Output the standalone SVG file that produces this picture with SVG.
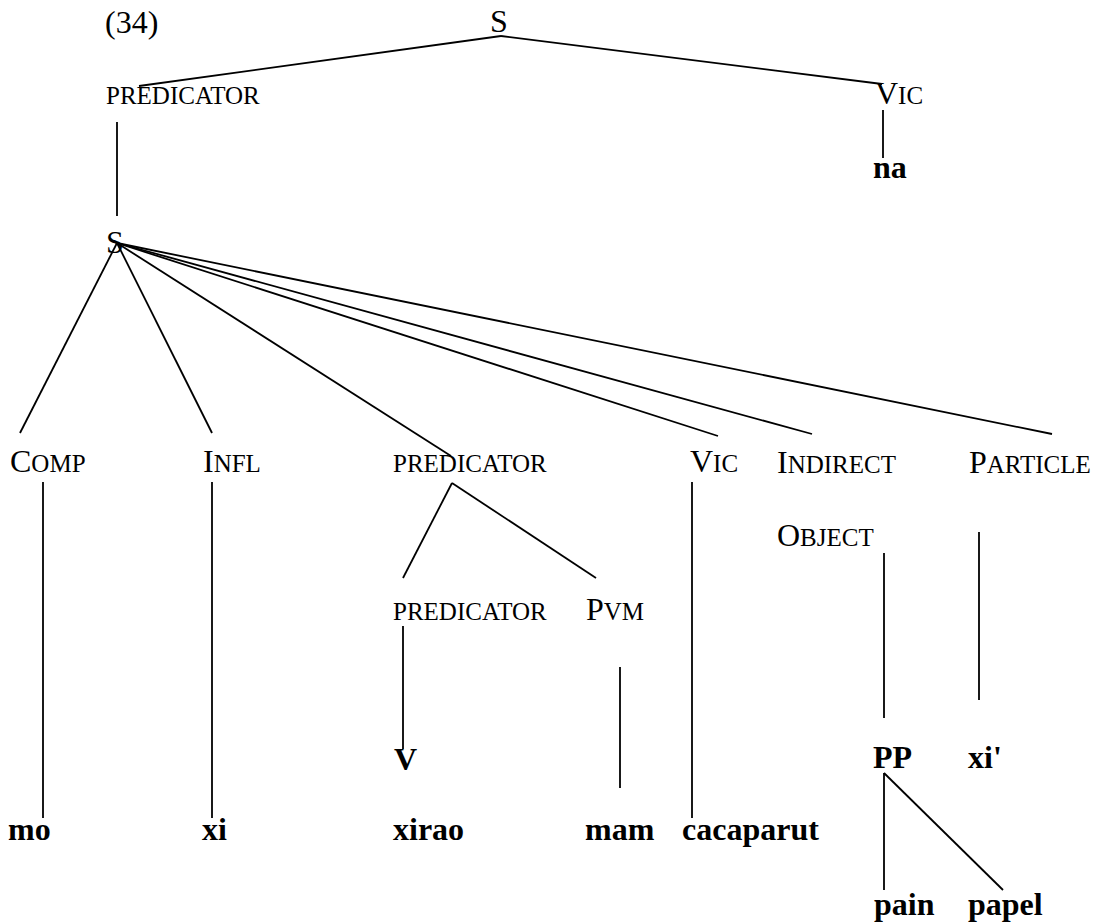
<svg xmlns="http://www.w3.org/2000/svg" width="1097" height="923" viewBox="0 0 1097 923">
  <style>
    text { font-family: "Liberation Serif", "Times New Roman", serif; font-size: 32px; fill: #000; }
    .sc { font-size: 25px; }
    .b { font-weight: bold; }
    #connectors line { stroke: #000; stroke-width: 1.8; stroke-linecap: butt; }
  </style>
  <rect width="1097" height="923" fill="#fff"/>

  <!-- branches of the tree -->
  <g id="connectors">
    <line x1="501" y1="36" x2="139" y2="86"/>
    <line x1="501" y1="36" x2="882" y2="84"/>
    <line x1="883" y1="110" x2="883" y2="158"/>
    <line x1="117" y1="122" x2="117" y2="216"/>
    <line x1="117" y1="243" x2="20" y2="433"/>
    <line x1="117" y1="243" x2="212" y2="433"/>
    <line x1="117" y1="243" x2="451" y2="456"/>
    <line x1="117" y1="243" x2="718" y2="436"/>
    <line x1="117" y1="243" x2="812" y2="434"/>
    <line x1="117" y1="243" x2="1052" y2="434"/>
    <line x1="43" y1="482" x2="43" y2="818"/>
    <line x1="212" y1="482" x2="212" y2="818"/>
    <line x1="452" y1="483" x2="403" y2="578"/>
    <line x1="452" y1="483" x2="596" y2="578"/>
    <line x1="692" y1="482" x2="692" y2="818"/>
    <line x1="403" y1="626" x2="403" y2="749"/>
    <line x1="620" y1="667" x2="620" y2="788"/>
    <line x1="884" y1="553" x2="884" y2="718"/>
    <line x1="979" y1="532" x2="979" y2="700"/>
    <line x1="884" y1="773" x2="884" y2="890"/>
    <line x1="884" y1="773" x2="1003" y2="890"/>
  </g>

  <g id="example-number"><text x="105" y="33">(34)</text></g>

  <g id="s-top"><text x="490" y="32">S</text></g>
  <g id="predicator-top"><text x="106" y="104" class="sc">PREDICATOR</text></g>
  <g id="vic-top"><text x="875" y="104">V<tspan class="sc">IC</tspan></text></g>
  <g id="na"><text x="873" y="178" class="b">na</text></g>

  <g id="s-inner"><text x="106" y="253">S</text></g>

  <g id="comp"><text x="10" y="472">C<tspan class="sc">OMP</tspan></text></g>
  <g id="infl"><text x="203" y="472">I<tspan class="sc">NFL</tspan></text></g>
  <g id="predicator-mid"><text x="393" y="472" class="sc">PREDICATOR</text></g>
  <g id="vic-mid"><text x="690" y="472">V<tspan class="sc">IC</tspan></text></g>
  <g id="indirect-object">
    <text x="777" y="473">I<tspan class="sc">NDIRECT</tspan></text>
    <text x="777" y="546">O<tspan class="sc">BJECT</tspan></text>
  </g>
  <g id="particle"><text x="969" y="473">P<tspan class="sc">ARTICLE</tspan></text></g>

  <g id="predicator-low"><text x="393" y="620" class="sc">PREDICATOR</text></g>
  <g id="pvm"><text x="586" y="620">P<tspan class="sc">VM</tspan></text></g>

  <g id="v"><text x="394" y="770" class="b">V</text></g>
  <g id="pp"><text x="873" y="768" class="b">PP</text></g>
  <g id="xi-prime"><text x="968" y="768" class="b">xi'</text></g>

  <g id="mo"><text x="8" y="840" class="b">mo</text></g>
  <g id="xi"><text x="202" y="840" class="b">xi</text></g>
  <g id="xirao"><text x="393" y="840" class="b">xirao</text></g>
  <g id="mam"><text x="585" y="840" class="b">mam</text></g>
  <g id="cacaparut"><text x="682" y="840" class="b">cacaparut</text></g>

  <g id="pain"><text x="874" y="915" class="b">pain</text></g>
  <g id="papel"><text x="968" y="915" class="b">papel</text></g>
</svg>
